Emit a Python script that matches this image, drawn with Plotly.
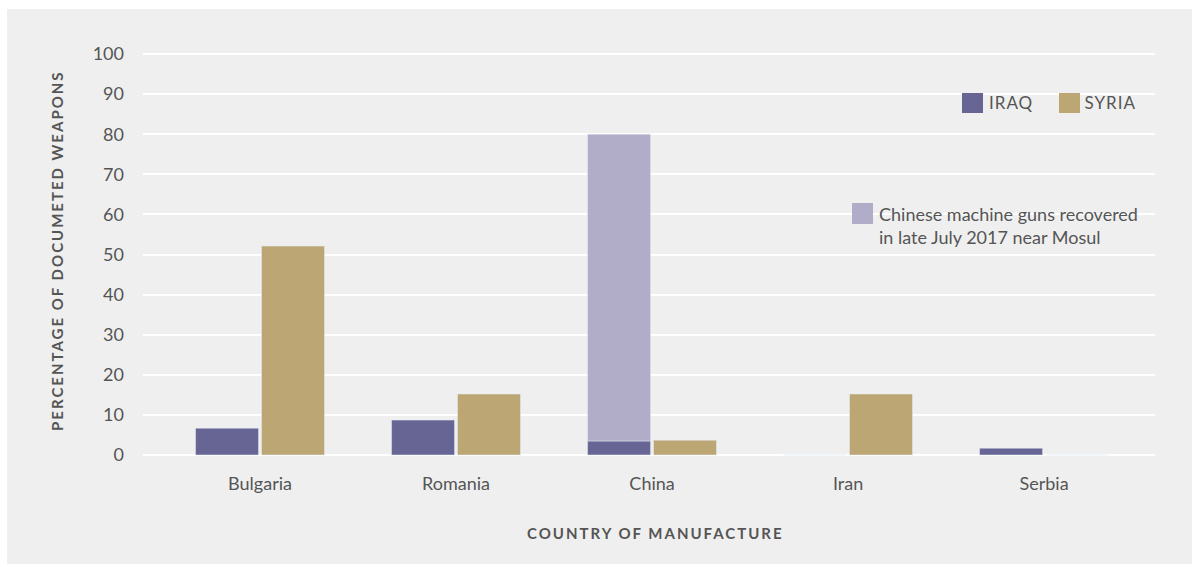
import plotly.graph_objects as go

countries = ["Bulgaria", "Romania", "China", "Iran", "Serbia"]
iraq = [6.7, 8.7, 3.5, 0, 1.7]
syria = [52.1, 15.2, 3.7, 15.2, 0]
china_mg_country = ["China"]
china_mg_total = [80]
china_mg_base = [3.5]
y_ticks = [0, 10, 20, 30, 40, 50, 60, 70, 80, 90, 100]

IRAQ_C = "#676594"
SYRIA_C = "#bba674"
MG_C = "#b1adc9"
BG = "#efefef"
TXT = "#555555"
FONT = "Source Sans Pro, Lato, Noto Sans, sans-serif"

W, H = 1192, 567
L, R, T, B = 143, 37, 52, 110
PW, PH = W - L - R, H - T - B


def px(x):
    return (x - L) / PW


def py(y):
    return (H - B - y) / PH


fig = go.Figure()
fig.add_bar(x=countries, y=iraq, name="IRAQ", marker_color=IRAQ_C,
            offsetgroup="iraq", showlegend=False)
fig.add_bar(x=china_mg_country,
            y=[t - b for t, b in zip(china_mg_total, china_mg_base)],
            base=china_mg_base, name="Chinese machine guns",
            marker_color=MG_C, offsetgroup="iraq", showlegend=False)
fig.add_bar(x=countries, y=syria, name="SYRIA", marker_color=SYRIA_C,
            offsetgroup="syria", showlegend=False)

shapes = [
    dict(type="rect", xref="paper", yref="paper", x0=px(7), x1=px(1192),
         y0=py(564), y1=py(9), fillcolor=BG, line_width=0, layer="below"),
    dict(type="rect", xref="paper", yref="paper", x0=px(962), x1=px(983),
         y0=py(113), y1=py(93), fillcolor=IRAQ_C, line_width=0),
    dict(type="rect", xref="paper", yref="paper", x0=px(1059), x1=px(1080),
         y0=py(113), y1=py(93), fillcolor=SYRIA_C, line_width=0),
    dict(type="rect", xref="paper", yref="paper", x0=px(852), x1=px(873),
         y0=py(224), y1=py(203), fillcolor=MG_C, line_width=0),
]

annotations = [
    dict(text="IRAQ", xref="paper", yref="paper", x=px(989), y=py(103),
         xanchor="left", yanchor="middle", showarrow=False,
         font=dict(size=17, color=TXT, family=FONT)),
    dict(text="SYRIA", xref="paper", yref="paper", x=px(1085), y=py(103),
         xanchor="left", yanchor="middle", showarrow=False,
         font=dict(size=17, color=TXT, family=FONT)),
    dict(text="Chinese machine guns recovered<br>in late July 2017 near Mosul",
         xref="paper", yref="paper", x=px(877), y=py(201),
         xanchor="left", yanchor="top", align="left", showarrow=False,
         font=dict(size=18, color=TXT, family=FONT)),
    dict(text="<b>PERCENTAGE OF DOCUMETED WEAPONS</b>", xref="paper",
         yref="paper", x=px(57), y=py(251), textangle=-90,
         xanchor="center", yanchor="middle", showarrow=False,
         font=dict(size=15, color=TXT, family=FONT)),
    dict(text="<b>COUNTRY OF MANUFACTURE</b>", xref="paper", yref="paper",
         x=px(655), y=py(533), xanchor="center", yanchor="middle",
         showarrow=False, font=dict(size=15, color=TXT, family=FONT)),
]

fig.update_layout(
    width=W, height=H,
    margin=dict(l=L, r=R, t=T, b=B),
    paper_bgcolor="white", plot_bgcolor=BG,
    barmode="group", bargap=0.327, bargroupgap=0.045,
    font=dict(family=FONT, color=TXT, size=18),
    shapes=shapes, annotations=annotations,
    xaxis=dict(type="category", range=[-0.597, 4.566], showgrid=False,
               zeroline=False, showline=False, ticks="",
               ticklabelstandoff=14, tickfont=dict(size=18, color=TXT)),
    yaxis=dict(range=[-0.5, 100.5], tickvals=y_ticks, showgrid=True,
               gridcolor="white", gridwidth=2, zeroline=True,
               zerolinecolor="white", zerolinewidth=2, showline=False,
               ticks="", ticklabelstandoff=18,
               tickfont=dict(size=18, color=TXT)),
)

post = """
document.body.style.margin = '0';
document.body.style.padding = '0';
document.querySelectorAll('.annotation-text').forEach(function(el){
  var t = el.textContent;
  if (t === 'IRAQ' || t === 'SYRIA') el.style.letterSpacing = '1px';
  if (t.indexOf('PERCENTAGE') === 0 || t.indexOf('COUNTRY') === 0) el.style.letterSpacing = '2px';
});
"""

fig.write_html("out.html", post_script=post, config={"displayModeBar": False})
